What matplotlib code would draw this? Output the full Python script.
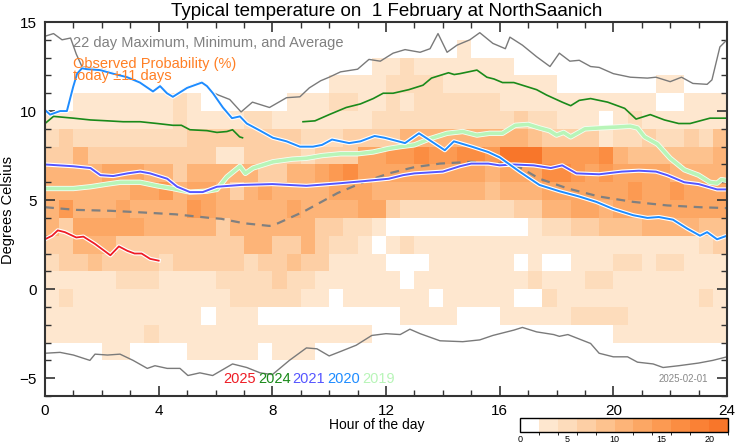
import numpy as np
import matplotlib
matplotlib.use("Agg")
import matplotlib.pyplot as plt
from matplotlib.colors import ListedColormap, BoundaryNorm
from matplotlib.ticker import MultipleLocator
import matplotlib.patheffects as pe

plt.rcParams['font.family'] = ['Liberation Sans', 'DejaVu Sans']

# observed probability (%) per half hour (48 columns), rows from 14..15 C down to -6..-5 C
prob = [
    [0]*48,
    [0,0,0,0,0,0,0,0, 0,0,0,0,0,0,0,0, 0,0,0,0,0,0,0,0, 0,0,0,0,0,3,0,0, 0,0,0,0,0,0,0,0, 0,0,0,0,0,0,0,0],
    [0,0,0,0,0,0,0,0, 0,0,0,0,0,0,0,0, 0,0,0,0,0,0,0,3, 3,5,3,3,3,3,3,3, 3,0,0,0,0,0,0,0, 0,0,0,0,0,0,0,0],
    [0,0,0,0,0,0,0,0, 0,0,0,0,0,0,0,0, 0,0,0,0,3,3,3,3, 5,5,5,5,3,3,3,3, 3,3,3,3,0,0,0,0, 0,0,0,3,3,0,0,0],
    [0,0,3,3,3,3,3,3, 3,5,3,0,0,0,0,0, 0,3,3,3,5,5,3,3, 5,3,5,5,5,5,5,5, 3,3,3,3,3,3,3,3, 3,3,3,0,0,3,3,3],
    [3,3,3,3,3,3,3,3, 3,5,3,3,3,3,5,5, 3,3,3,3,3,3,3,5, 5,5,5,5,5,5,5,5, 5,7,5,5,3,3,3,0, 3,5,3,3,3,3,3,3],
    [5,7,5,5,5,5,5,5, 5,5,7,7,7,7,7,7, 7,7,5,5,5,7,7,7, 7,11,11,11,11,11,11,11, 11,11,9,7,7,7,7,3, 5,5,7,5,5,7,5,9],
    [7,7,11,7,7,7,7,7, 7,7,7,7,3,3,7,7, 7,7,5,7,7,7,13,13, 15,15,17,15,15,17,17,15, 21,21,21,15,15,15,15,17, 11,9,9,9,9,9,9,11],
    [11,11,11,11,13,13,13,11, 11,7,11,11,11,11,11,7, 7,11,11,13,15,17,13,13, 13,13,13,13,13,13,13,11, 13,13,13,17,17,15,13,15, 13,13,13,13,11,11,11,11],
    [11,11,11,11,11,11,13,13, 15,11,13,13,11,7,11,13, 11,11,11,11,13,13,13,11, 11,11,11,11,11,11,11,9, 11,11,11,13,13,13,13,13, 13,15,13,13,15,13,13,13],
    [11,15,11,11,11,13,11,11, 11,11,15,13,11,11,11,11, 11,13,11,11,11,11,13,13, 7,5,5,5,5,5,5,5, 5,7,7,11,11,13,13,11, 13,13,13,13,13,13,13,13],
    [11,7,13,13,13,13,13,11, 11,11,11,11,7,11,11,11, 11,11,11,7,7,5,5,3, 0,0,0,0,0,0,0,0, 0,0,3,5,5,7,7,9, 9,9,11,11,11,11,9,9],
    [7,7,11,11,11,7,7,7, 7,7,7,7,7,7,11,11, 7,7,11,7,5,5,3,0, 3,5,3,3,3,3,3,3, 3,3,3,3,3,3,3,3, 3,3,3,3,3,3,5,7],
    [5,7,7,9,7,7,7,7, 5,7,7,7,7,7,5,7, 7,9,7,7,3,3,3,3, 0,0,0,3,3,3,3,3, 3,0,3,0,0,3,3,3, 5,5,3,5,5,3,3,3],
    [3,3,3,3,3,5,5,5, 3,3,3,3,5,5,5,5, 7,5,5,3,3,3,3,3, 3,0,3,3,3,3,3,3, 3,3,5,3,3,3,5,5, 3,3,3,3,3,3,3,3],
    [3,5,3,3,3,3,3,3, 3,3,3,3,3,5,5,5, 5,5,3,3,0,3,3,3, 3,3,3,0,3,3,3,3, 3,0,0,5,3,3,3,3, 3,3,3,3,3,3,5,3],
    [3,3,3,3,3,3,3,3, 3,3,3,0,3,3,3,0, 0,0,0,0,0,0,0,0, 0,3,3,3,3,0,0,0, 3,3,3,3,3,5,5,5, 5,3,3,3,3,3,3,3],
    [3,3,3,3,3,3,3,5, 3,3,3,3,3,3,3,3, 3,3,3,3,3,3,3,0, 0,0,0,0,0,0,0,0, 0,0,0,0,0,0,0,0, 3,3,3,3,3,3,3,3],
    [0,0,0,0,3,3,0,0, 0,0,3,3,3,3,3,0, 3,3,3,0,0,0,0,0, 0,0,0,0,0,0,0,0, 0,0,0,0,0,0,0,0, 0,0,0,0,0,0,0,0],
    [0]*48,
    [0]*48,
]

max_h = [0, 0.3, 0.6, 0.9, 1.1, 1.3, 1.5, 2.0, 2.4, 2.9, 3.3, 3.8, 4.05, 4.3, 4.5, 5.0, 5.5, 5.9, 6.1, 6.5,
         6.9, 7.3, 7.9, 8.5, 8.97, 9.3, 9.7, 10.0, 10.4, 11.0, 11.4, 11.8, 12.25, 12.67, 13.2, 13.55, 13.83,
         14.15, 14.5, 14.95, 15.3, 15.76, 16.2, 16.36, 16.8, 17.3, 17.77, 18.1, 18.47, 18.8, 19.2, 19.5, 20.0,
         20.6, 21.2, 21.5, 22.0, 22.4, 22.8, 23.3, 23.47, 23.75, 24.0]
max_t = [14.2, 14.35, 14.0, 14.1, 13.2, 12.5, 12.45, 12.35, 12.15, 11.95, 11.65, 11.15, 11.45, 11.05, 10.85,
         11.35, 11.65, 11.05, 10.9, 10.65, 9.95, 10.5, 10.2, 10.75, 10.8, 11.3, 11.7, 11.9, 12.2, 12.35, 12.9,
         12.8, 13.25, 13.45, 13.3, 13.5, 14.35, 13.3, 13.7, 14.0, 14.4, 13.8, 13.5, 14.15, 13.7, 13.05, 12.5,
         13.25, 12.8, 12.85, 12.5, 12.45, 12.1, 11.9, 11.85, 11.9, 11.65, 11.9, 11.55, 11.5, 11.75, 13.6, 14.0]

min_h = [0, 0.53, 1.0, 1.58, 1.76, 2.2, 2.64, 3.1, 3.6, 3.87, 4.3, 4.75, 5.03, 5.45, 5.9, 6.6, 7.1, 7.57,
         8.0, 8.6, 9.2, 9.57, 10.0, 10.4, 10.95, 11.5, 12.0, 12.5, 12.84, 13.2, 13.9, 14.7, 15.3, 15.76,
         16.5, 16.8, 17.3, 17.9, 18.1, 18.4, 18.8, 19.2, 19.5, 20.0, 20.5, 20.85, 21.4, 21.75, 22.3, 23.0,
         23.5, 24.0]
min_t = [-3.6, -3.55, -3.7, -4.0, -3.65, -3.7, -3.65, -4.0, -4.45, -4.3, -4.45, -4.45, -4.85, -4.7, -4.85,
         -4.2, -4.4, -4.7, -4.8, -4.0, -3.3, -3.35, -3.75, -3.5, -3.15, -2.6, -2.5, -2.55, -2.25, -2.5, -2.9,
         -2.95, -2.85, -2.6, -2.3, -2.15, -2.4, -2.55, -2.65, -2.55, -2.8, -3.05, -3.6, -3.8, -3.8, -4.1,
         -4.2, -4.4, -4.3, -4.15, -4.0, -3.8]

avg_h = [0, 1.1, 2.3, 3.5, 4.6, 5.8, 6.2, 7.0, 7.9, 8.2, 9.1, 10.3, 11.2, 12.1, 13.0, 13.9, 15.0, 16.0, 16.7,
         17.4, 18.4, 19.5, 20.7, 21.9, 23.05, 24.0]
avg_t = [4.6, 4.45, 4.4, 4.3, 4.2, 4.0, 3.95, 3.7, 3.55, 3.7, 4.35, 5.4, 6.0, 6.5, 6.85, 7.05, 7.15, 7.05, 6.85,
         6.2, 5.65, 5.2, 4.9, 4.7, 4.6, 4.55]

y2025_h = [0, 0.25, 0.45, 0.7, 1.1, 1.35, 1.75, 2.3, 2.6, 2.9, 3.15, 3.4, 3.7, 4.0]
y2025_t = [2.8, 3.0, 3.3, 3.2, 2.9, 2.95, 2.55, 1.9, 2.4, 2.15, 2.0, 2.0, 1.7, 1.6]

y2024_h1 = [0, 0.3, 1.0, 1.6, 2.2, 2.75, 3.35, 3.95, 4.5, 4.8, 5.1, 5.7, 6.05, 6.4, 6.6, 6.85, 6.95]
y2024_t1 = [9.3, 9.7, 9.6, 9.5, 9.45, 9.4, 9.4, 9.3, 9.2, 9.2, 8.95, 8.9, 8.8, 8.85, 8.95, 8.55, 8.5]
y2024_h2 = [9.08, 9.5, 10.0, 10.6, 11.1, 11.55, 11.9, 12.25, 12.8, 13.3, 13.6, 13.9, 14.2, 14.4, 14.6, 15.2,
            15.55, 15.8, 16.1, 16.5, 17.3, 17.65, 18.2, 18.5, 18.8, 19.2, 19.8, 20.4, 20.8, 21.3, 21.8, 22.3,
            22.7, 23.4, 24.0]
y2024_t2 = [9.4, 9.45, 9.8, 10.2, 10.4, 10.7, 11.0, 11.0, 11.2, 11.45, 11.85, 12.0, 12.15, 12.05, 12.1, 12.3,
            11.9, 11.8, 11.6, 11.6, 11.2, 10.9, 10.5, 10.3, 10.6, 10.7, 10.5, 10.15, 9.55, 9.8, 9.5, 9.3,
            9.3, 9.6, 9.6]

y2021_h = [0, 1.0, 1.6, 1.95, 2.4, 2.9, 3.35, 3.7, 4.3, 4.65, 5.1, 5.55, 6.05, 6.9, 8.0, 9.2, 10.4, 11.25, 12.1,
           12.6, 13.0, 14.0, 14.6, 15.0, 15.6, 16.0, 16.5, 17.2, 17.8, 18.2, 18.7, 19.5, 20.3, 20.9, 21.5,
           21.9, 22.5, 23.0, 23.65, 24.0]
y2021_t = [7.0, 6.9, 6.8, 6.4, 6.35, 6.5, 6.6, 6.5, 6.2, 5.75, 5.45, 5.45, 5.75, 5.85, 5.9, 5.8, 5.95, 6.07,
           6.2, 6.4, 6.5, 6.6, 6.9, 7.05, 7.05, 6.95, 7.0, 6.95, 6.8, 6.95, 6.5, 6.45, 6.6, 6.65, 6.6, 6.4,
           6.0, 5.9, 5.6, 5.6]

y2020_h = [0, 0.18, 0.53, 0.77, 0.99, 1.13, 1.3, 1.48, 1.94, 2.39, 2.89, 3.34, 3.8, 4.05, 4.29, 4.5, 5.0, 5.52,
           5.7, 5.91, 6.26, 6.58, 6.86, 7.1, 7.57, 8.02, 8.5, 8.97, 9.43, 9.75, 10.1, 10.7, 11.1, 11.6, 11.95,
           12.67, 13.16, 13.5, 14.07, 14.39, 15.02, 15.6, 16.0, 16.7, 17.4, 18.1, 18.8, 19.4, 20.0, 20.7, 21.2,
           21.6, 22.1, 22.6, 23.05, 23.3, 23.65, 24.0]
y2020_t = [10.06, 9.8, 10.0, 10.0, 11.35, 12.1, 12.4, 12.35, 12.3, 12.1, 11.9, 11.6, 11.1, 11.4, 11.0, 10.8,
           11.3, 11.6, 11.4, 11.0, 10.2, 9.6, 9.7, 9.3, 8.9, 8.5, 8.3, 8.0, 8.0, 8.1, 8.4, 8.2, 8.3, 8.6, 8.5,
           8.2, 8.75, 8.4, 7.8, 8.3, 8.0, 7.7, 7.4, 6.6, 5.85, 5.5, 5.2, 4.9, 4.5, 4.15, 4.0, 4.05, 3.9, 3.4,
           3.0, 3.2, 2.8, 3.0]

y2019_h = [0, 1.0, 1.6, 2.2, 2.65, 3.35, 3.95, 4.5, 5.1, 5.7, 6.05, 6.4, 6.86, 7.05, 7.32, 8.02, 8.7, 9.2,
           9.75, 10.4, 11.0, 11.55, 12.1, 12.5, 13.0, 13.55, 14.15, 14.7, 15.2, 15.65, 16.1, 16.55, 17.0,
           17.4, 17.75, 18.0, 18.25, 18.5, 19.0, 19.5, 20.1, 20.6, 20.85, 21.1, 21.55, 22.0, 22.5, 23.0, 23.4,
           23.65, 23.8, 24.0]
y2019_t = [5.65, 5.65, 5.75, 5.9, 6.0, 6.0, 5.8, 5.65, 5.45, 5.5, 5.6, 6.3, 6.9, 6.5, 6.8, 7.15, 7.3, 7.35,
           7.5, 7.6, 7.6, 7.7, 7.9, 8.0, 8.1, 8.45, 8.75, 8.85, 8.65, 8.75, 8.75, 9.2, 9.25, 9.05, 8.9, 8.65,
           8.8, 8.55, 9.0, 9.05, 9.1, 9.15, 9.05, 8.55, 8.15, 7.35, 6.7, 6.4, 6.0, 5.95, 6.15, 6.1]

year_labels = ['2025', '2024', '2021', '2020', '2019']
year_colors = ['#ee1c25', '#1a8a1a', '#5555ff', '#1e8cff', '#b8f5b8']

cbar_colors = ['#ffffff', '#fee7cf', '#fddcbb', '#fdcfa5', '#fdc28e', '#fdb478', '#fca764',
               '#fc9a52', '#fb8d42', '#fa8135', '#f8762a']
levels = np.arange(0, 23, 2)

fig = plt.figure(figsize=(7.42, 4.45), dpi=100)
ax = fig.add_axes([45 / 742, 49 / 445, 682 / 742, 374 / 445])

hour_edges = np.arange(0, 24.01, 0.5)
temp_edges = np.arange(-6, 16)
cmap = ListedColormap(cbar_colors)
norm = BoundaryNorm(levels, cmap.N)
mesh = ax.pcolormesh(hour_edges, temp_edges, np.array(prob)[::-1], cmap=cmap, norm=norm)

ax.plot(max_h, max_t, color='#7a7a7a', lw=1.0)
ax.plot(min_h, min_t, color='#7a7a7a', lw=1.0)
ax.plot(avg_h, avg_t, color='#808080', lw=1.6, ls=(0, (4, 3)))

halo = [pe.withStroke(linewidth=3.0, foreground='white')]
ax.plot(y2019_h, y2019_t, color=year_colors[4], lw=2.6,
        path_effects=[pe.withStroke(linewidth=3.8, foreground='#f4fff4')])
ax.plot(y2021_h, y2021_t, color=year_colors[2], lw=1.4, path_effects=halo)
ax.plot(y2020_h, y2020_t, color=year_colors[3], lw=1.4, path_effects=halo)
ax.plot(y2024_h1, y2024_t1, color=year_colors[1], lw=1.2)
ax.plot(y2024_h2, y2024_t2, color=year_colors[1], lw=1.2)
ax.plot(y2025_h, y2025_t, color=year_colors[0], lw=1.3, path_effects=halo)

ax.set_xlim(0, 24)
ax.set_ylim(-6, 15)
ax.set_xticks([0, 4, 8, 12, 16, 20, 24])
ax.set_yticks([-5, 0, 5, 10, 15])
ax.xaxis.set_minor_locator(MultipleLocator(1))
ax.yaxis.set_minor_locator(MultipleLocator(1))
ax.tick_params(which='both', direction='in', top=True, right=True, colors='#333333',
               labelcolor='black', labelsize=11)
ax.tick_params(which='major', length=7, width=1.2, pad=6)
ax.tick_params(which='minor', length=4, width=1.0)
for s in ax.spines.values():
    s.set_linewidth(1.5)
    s.set_color('#333333')

fig.text(387 / 742, 1 - 12 / 445, 'Typical temperature on  1 February at NorthSaanich',
         ha='center', va='center', fontsize=13.5)
fig.text(73 / 742, 1 - 43 / 445, '22 day Maximum, Minimum, and Average',
         ha='left', va='center', fontsize=10.5, color='#808080')
fig.text(73 / 742, 1 - 70 / 445, 'Observed Probability (%)\ntoday \u00b111 days',
         ha='left', va='center', fontsize=10.5, color='#ff7f24', linespacing=0.8)

x0 = 223
for lab, col in zip(year_labels, year_colors):
    fig.text(x0 / 742, 1 - 379 / 445, lab, ha='left', va='center', fontsize=10.5, color=col)
    x0 += 34.8
fig.text(708 / 742, 1 - 379 / 445, '2025-02-01', ha='right', va='center', fontsize=7, color='#888888')

fig.text(8 / 742, 1 - 210 / 445, 'Degrees Celsius', rotation=90, ha='center', va='center', fontsize=10.5)
fig.text(377 / 742, 1 - 425 / 445, 'Hour of the day', ha='center', va='center', fontsize=10)

cax = fig.add_axes([520 / 742, 13 / 445, 208 / 742, 14 / 445])
cb = fig.colorbar(mesh, cax=cax, orientation='horizontal', ticks=[0, 5, 10, 15, 20])
cb.outline.set_linewidth(1.0)
cax.tick_params(length=0, labelsize=6.5, pad=2)

fig.savefig('out.png', dpi=100)
